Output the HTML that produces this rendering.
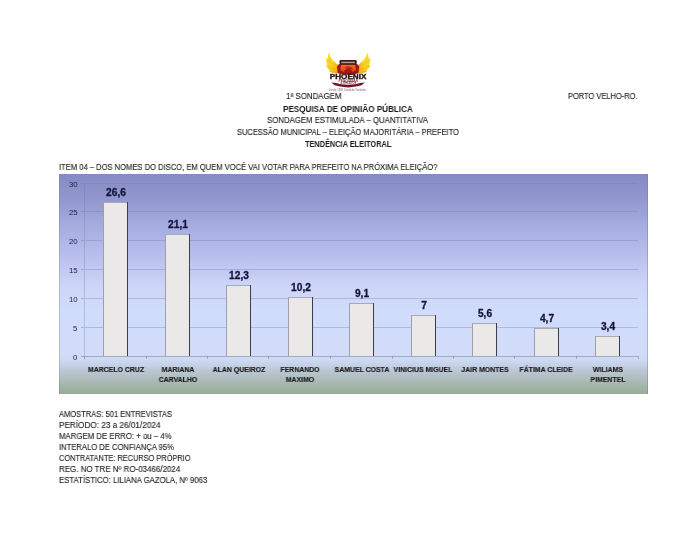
<!DOCTYPE html>
<html><head><meta charset="utf-8">
<style>
html,body{margin:0;padding:0;background:#fff;width:696px;height:538px;overflow:hidden;position:relative;}
body{font-family:"Liberation Sans",sans-serif;color:#1c1c1c;}
.t{-webkit-text-stroke:0.12px #1c1c1c;}
.t{position:absolute;white-space:nowrap;line-height:1;transform-origin:0 0;will-change:transform;}
.b{font-weight:bold;-webkit-text-stroke:0;color:#1a1a1a;}
.val{will-change:transform;position:absolute;font-weight:bold;color:#141438;-webkit-text-stroke:0.3px #141438;font-size:10.2px;line-height:1;white-space:nowrap;transform:translateX(-50%);}
.yl{will-change:transform;position:absolute;right:618.8px;font-size:7.8px;color:#22224a;line-height:1;}
.xl{will-change:transform;position:absolute;font-size:7.7px;font-weight:bold;color:#1a1a1a;-webkit-text-stroke:0.15px #1a1a1a;line-height:9.5px;text-align:center;white-space:nowrap;transform:translateX(-50%) scaleX(0.9);}
</style></head><body>

<!--LOGO-->
<svg width="56" height="46" viewBox="320 48 56 46" style="position:absolute;left:320px;top:48px;will-change:transform;">
<defs>
<linearGradient id="wg" x1="0" y1="0" x2="1" y2="1">
<stop offset="0" stop-color="#f8e22a"/><stop offset="0.5" stop-color="#f6d41e"/><stop offset="1" stop-color="#f19a18"/>
</linearGradient>
<linearGradient id="sg" x1="0" y1="0" x2="0" y2="1">
<stop offset="0" stop-color="#f3781c"/><stop offset="0.5" stop-color="#ec5418"/><stop offset="1" stop-color="#d43018"/>
</linearGradient>
</defs>
<g id="lw">
<path d="M339.8,73 C335.5,74 331.5,73.2 328.8,71 L330.2,70.6 C328,69.5 326.6,67.5 326,65 L327.6,65.3 C326.2,63 325.9,60.5 326.4,58 L327.8,59 C327.6,56.5 328.2,54.2 329.3,52.4 C329.8,56 331.8,59.8 334.8,62 C337,63.6 338.9,65.2 339.8,67 Z" fill="url(#wg)"/>
<path d="M327.6,59.2 C329.5,62.8 333.2,65 338.6,66.4 M327.4,65.2 C329.8,67.8 333.5,69 339,69.4 M329.8,70.6 C332,71.8 335,72.2 339,72" stroke="#f0a81a" stroke-width="0.55" fill="none" opacity="0.9"/>
</g>
<use href="#lw" transform="translate(696.4,0) scale(-1,1)"/>
<!-- shield body -->
<path d="M339.2,64 L357,64 C358,64.8 358.8,65.6 359.2,66.6 L358.6,72.8 C357,74 354,74.6 348.1,74.8 C342.2,74.6 339.2,74 337.6,72.8 L337,66.6 C337.4,65.6 338.2,64.8 339.2,64 Z" fill="#a0181e"/>
<path d="M341.5,64.4 L354.7,64.4 C355.6,66.5 356,68.5 355.8,70.6 C354.5,71.2 353.2,71.6 352.6,72.4 C351.8,70.2 350.2,68.8 348.1,68.8 C346,68.8 344.4,70.2 343.6,72.4 C343,71.6 341.7,71.2 340.4,70.6 C340.2,68.5 340.6,66.5 341.5,64.4 Z" fill="url(#sg)"/>
<path d="M344.5,68 C346,66.2 349,65.8 351,67 C352,67.6 352.6,68.6 352.8,69.6 C351.6,68.9 350,68.8 348.6,69.2 C347,68.5 345.6,68.2 344.5,68 Z" fill="#b0141a" opacity="0.7"/>
<!-- top band -->
<path d="M339.8,64.8 L339.4,61.6 C339.5,60.6 340.2,60 341.2,60 L355,60 C356,60 356.7,60.6 356.8,61.6 L356.4,64.8 Z" fill="#3a1a18"/>
<rect x="341.3" y="61.7" width="13.6" height="1.5" fill="#e6d6cc" opacity="0.7"/>
<!-- PHOENIX -->
<text x="329.8" y="78.9" font-family="Liberation Sans" font-weight="bold" font-size="6.6" textLength="36.6" lengthAdjust="spacingAndGlyphs" fill="#2a1414" stroke="#2a1414" stroke-width="0.35">PHOENIX</text>
<!-- ribbon -->
<path d="M331.3,82.4 L336,83 L341,84.2 L348.1,84.8 L355.2,84.2 L360.2,83 L364.9,82.4 L361.5,85.2 L356,86.5 L348.1,87.4 L340.2,86.5 L334.7,85.2 Z" fill="#6e1424"/>
<text x="338.5" y="81.9" font-family="Liberation Sans" font-weight="bold" font-size="3" textLength="19.5" lengthAdjust="spacingAndGlyphs" fill="#9a2438">PESQUISAS</text>
<text x="340.5" y="84.4" font-family="Liberation Sans" font-weight="bold" font-size="2.8" textLength="15.5" lengthAdjust="spacingAndGlyphs" fill="#8a1c30">&amp; PROJETOS</text>
<!-- small text -->
<text x="328.8" y="91.3" font-family="Liberation Sans" font-size="3.7" textLength="37.7" lengthAdjust="spacingAndGlyphs" fill="#7a6a86">Desde 1998 Dividindo Verdades</text>
</svg>
<!--/LOGO-->
<!-- header -->
<div class="t" style="left:286px;top:92px;font-size:8.5px;transform:scaleX(0.927);">1ª SONDAGEM</div>
<div class="t" style="left:568px;top:92px;font-size:8.5px;transform:scaleX(0.879);">PORTO VELHO-RO.</div>
<div class="t b" style="left:283.2px;top:104.6px;font-size:8.5px;transform:scaleX(0.953);">PESQUISA DE OPINIÃO PÚBLICA</div>
<div class="t" style="left:267px;top:116.4px;font-size:8.5px;transform:scaleX(0.919);">SONDAGEM ESTIMULADA – QUANTITATIVA</div>
<div class="t" style="left:237px;top:128.3px;font-size:8.5px;transform:scaleX(0.88);">SUCESSÃO MUNICIPAL – ELEIÇÃO MAJORITÁRIA – PREFEITO</div>
<div class="t b" style="left:305px;top:139.5px;font-size:8.5px;transform:scaleX(0.866);">TENDÊNCIA ELEITORAL</div>

<div class="t" style="left:58.7px;top:163.3px;font-size:8.5px;transform:scaleX(0.8925);">ITEM 04 – DOS NOMES DO DISCO, EM QUEM VOCÊ VAI VOTAR PARA PREFEITO NA PRÓXIMA ELEIÇÃO?</div>

<!--CHART-->
<svg width="589" height="220" viewBox="59 174 589 220" style="position:absolute;left:59px;top:174px;">
<defs><linearGradient id="bg" x1="0" y1="0" x2="0" y2="1">
<stop offset="0" stop-color="#8589c5"/>
<stop offset="0.12" stop-color="#9399cf"/>
<stop offset="0.23" stop-color="#a4abdf"/>
<stop offset="0.39" stop-color="#bcc2ee"/>
<stop offset="0.51" stop-color="#cdd5f8"/>
<stop offset="0.62" stop-color="#d0dcfc"/>
<stop offset="0.82" stop-color="#d2dcf8"/>
<stop offset="0.85" stop-color="#ccd8f0"/>
<stop offset="0.89" stop-color="#bcc8d8"/>
<stop offset="0.95" stop-color="#a8b8b0"/>
<stop offset="1" stop-color="#98ac98"/>
</linearGradient></defs>
<rect x="59" y="174" width="589" height="220" fill="url(#bg)"/>
<rect x="59" y="174" width="1" height="220" fill="#707880" fill-opacity="0.3"/>
<rect x="647" y="174" width="1" height="220" fill="#707880" fill-opacity="0.4"/>
<rect x="85" y="327" width="553" height="1" fill="#6c7e9c" fill-opacity="0.34"/>
<rect x="81" y="327" width="3" height="1" fill="#6c7e9c" fill-opacity="0.42"/>
<rect x="85" y="298" width="553" height="1" fill="#6c7e9c" fill-opacity="0.34"/>
<rect x="81" y="298" width="3" height="1" fill="#6c7e9c" fill-opacity="0.42"/>
<rect x="85" y="269" width="553" height="1" fill="#6c7e9c" fill-opacity="0.34"/>
<rect x="81" y="269" width="3" height="1" fill="#6c7e9c" fill-opacity="0.42"/>
<rect x="85" y="240" width="553" height="1" fill="#6c7e9c" fill-opacity="0.34"/>
<rect x="81" y="240" width="3" height="1" fill="#6c7e9c" fill-opacity="0.42"/>
<rect x="85" y="211" width="553" height="1" fill="#6c7e9c" fill-opacity="0.34"/>
<rect x="81" y="211" width="3" height="1" fill="#6c7e9c" fill-opacity="0.42"/>
<rect x="85" y="183" width="553" height="1" fill="#6c7e9c" fill-opacity="0.34"/>
<rect x="81" y="183" width="3" height="1" fill="#6c7e9c" fill-opacity="0.42"/>
<rect x="84" y="183" width="1" height="176" fill="#6c7e9c" fill-opacity="0.32"/>
<rect x="81" y="356" width="557" height="1" fill="#6c7e9c" fill-opacity="0.5"/>
<rect x="84" y="356" width="1" height="3" fill="#6c7e9c" fill-opacity="0.5"/>
<rect x="146" y="356" width="1" height="3" fill="#6c7e9c" fill-opacity="0.5"/>
<rect x="207" y="356" width="1" height="3" fill="#6c7e9c" fill-opacity="0.5"/>
<rect x="268" y="356" width="1" height="3" fill="#6c7e9c" fill-opacity="0.5"/>
<rect x="330" y="356" width="1" height="3" fill="#6c7e9c" fill-opacity="0.5"/>
<rect x="392" y="356" width="1" height="3" fill="#6c7e9c" fill-opacity="0.5"/>
<rect x="453" y="356" width="1" height="3" fill="#6c7e9c" fill-opacity="0.5"/>
<rect x="514" y="356" width="1" height="3" fill="#6c7e9c" fill-opacity="0.5"/>
<rect x="576" y="356" width="1" height="3" fill="#6c7e9c" fill-opacity="0.5"/>
<rect x="638" y="356" width="1" height="3" fill="#6c7e9c" fill-opacity="0.5"/>
<rect x="103" y="202" width="25" height="154" fill="#eae9e7"/>
<rect x="103" y="202" width="1" height="154" fill="#9e9eac"/>
<rect x="103" y="202" width="24" height="1" fill="#a8a8b6"/>
<rect x="127" y="202" width="1" height="154" fill="#3e3e4a"/>
<rect x="165" y="234" width="25" height="122" fill="#eae9e7"/>
<rect x="165" y="234" width="1" height="122" fill="#9e9eac"/>
<rect x="165" y="234" width="24" height="1" fill="#a8a8b6"/>
<rect x="189" y="234" width="1" height="122" fill="#3e3e4a"/>
<rect x="226" y="285" width="25" height="71" fill="#eae9e7"/>
<rect x="226" y="285" width="1" height="71" fill="#9e9eac"/>
<rect x="226" y="285" width="24" height="1" fill="#a8a8b6"/>
<rect x="250" y="285" width="1" height="71" fill="#3e3e4a"/>
<rect x="288" y="297" width="25" height="59" fill="#eae9e7"/>
<rect x="288" y="297" width="1" height="59" fill="#9e9eac"/>
<rect x="288" y="297" width="24" height="1" fill="#a8a8b6"/>
<rect x="312" y="297" width="1" height="59" fill="#3e3e4a"/>
<rect x="349" y="303" width="25" height="53" fill="#eae9e7"/>
<rect x="349" y="303" width="1" height="53" fill="#9e9eac"/>
<rect x="349" y="303" width="24" height="1" fill="#a8a8b6"/>
<rect x="373" y="303" width="1" height="53" fill="#3e3e4a"/>
<rect x="411" y="315" width="25" height="41" fill="#eae9e7"/>
<rect x="411" y="315" width="1" height="41" fill="#9e9eac"/>
<rect x="411" y="315" width="24" height="1" fill="#a8a8b6"/>
<rect x="435" y="315" width="1" height="41" fill="#3e3e4a"/>
<rect x="472" y="323" width="25" height="33" fill="#eae9e7"/>
<rect x="472" y="323" width="1" height="33" fill="#9e9eac"/>
<rect x="472" y="323" width="24" height="1" fill="#a8a8b6"/>
<rect x="496" y="323" width="1" height="33" fill="#3e3e4a"/>
<rect x="534" y="328" width="25" height="28" fill="#eae9e7"/>
<rect x="534" y="328" width="1" height="28" fill="#9e9eac"/>
<rect x="534" y="328" width="24" height="1" fill="#a8a8b6"/>
<rect x="558" y="328" width="1" height="28" fill="#3e3e4a"/>
<rect x="595" y="336" width="25" height="20" fill="#eae9e7"/>
<rect x="595" y="336" width="1" height="20" fill="#9e9eac"/>
<rect x="595" y="336" width="24" height="1" fill="#a8a8b6"/>
<rect x="619" y="336" width="1" height="20" fill="#3e3e4a"/>
</svg>
<div class="yl" style="top:353.8px;">0</div>
<div class="yl" style="top:324.8px;">5</div>
<div class="yl" style="top:295.8px;">10</div>
<div class="yl" style="top:266.8px;">15</div>
<div class="yl" style="top:237.8px;">20</div>
<div class="yl" style="top:208.8px;">25</div>
<div class="yl" style="top:180.8px;">30</div>
<div class="val" style="left:115.5px;top:188.0px;">26,6</div>
<div class="val" style="left:177.5px;top:219.7px;">21,1</div>
<div class="val" style="left:238.5px;top:270.5px;">12,3</div>
<div class="val" style="left:300.5px;top:282.6px;">10,2</div>
<div class="val" style="left:361.5px;top:288.9px;">9,1</div>
<div class="val" style="left:423.5px;top:301.0px;">7</div>
<div class="val" style="left:484.5px;top:309.1px;">5,6</div>
<div class="val" style="left:546.5px;top:314.3px;">4,7</div>
<div class="val" style="left:607.5px;top:321.8px;">3,4</div>
<div class="xl" style="left:116.0px;top:365px;">MARCELO CRUZ</div>
<div class="xl" style="left:177.5px;top:365px;">MARIANA<br>CARVALHO</div>
<div class="xl" style="left:239.0px;top:365px;">ALAN QUEIROZ</div>
<div class="xl" style="left:300.4px;top:365px;">FERNANDO<br>MAXIMO</div>
<div class="xl" style="left:361.9px;top:365px;">SAMUEL COSTA</div>
<div class="xl" style="left:423.3px;top:365px;">VINICIUS MIGUEL</div>
<div class="xl" style="left:484.8px;top:365px;">JAIR MONTES</div>
<div class="xl" style="left:546.2px;top:365px;">FÁTIMA CLEIDE</div>
<div class="xl" style="left:607.7px;top:365px;">WILIAMS<br>PIMENTEL</div>
<!--/CHART-->

<!-- footer -->
<div class="t" style="left:58.5px;top:410px;font-size:8.5px;transform:scaleX(0.887);">AMOSTRAS: 501 ENTREVISTAS</div>
<div class="t" style="left:58.5px;top:421px;font-size:8.5px;transform:scaleX(0.963);">PERÍODO: 23 a 26/01/2024</div>
<div class="t" style="left:58.5px;top:432px;font-size:8.5px;transform:scaleX(0.919);">MARGEM DE ERRO: + ou – 4%</div>
<div class="t" style="left:58.5px;top:443px;font-size:8.5px;transform:scaleX(0.897);">INTERALO DE CONFIANÇA 95%</div>
<div class="t" style="left:58.5px;top:454px;font-size:8.5px;transform:scaleX(0.869);">CONTRATANTE: RECURSO PRÓPRIO</div>
<div class="t" style="left:58.5px;top:465px;font-size:8.5px;transform:scaleX(0.936);">REG. NO TRE Nº RO-03466/2024</div>
<div class="t" style="left:58.5px;top:476px;font-size:8.5px;transform:scaleX(0.9125);">ESTATÍSTICO: LILIANA GAZOLA, Nº 9063</div>

</body></html>
